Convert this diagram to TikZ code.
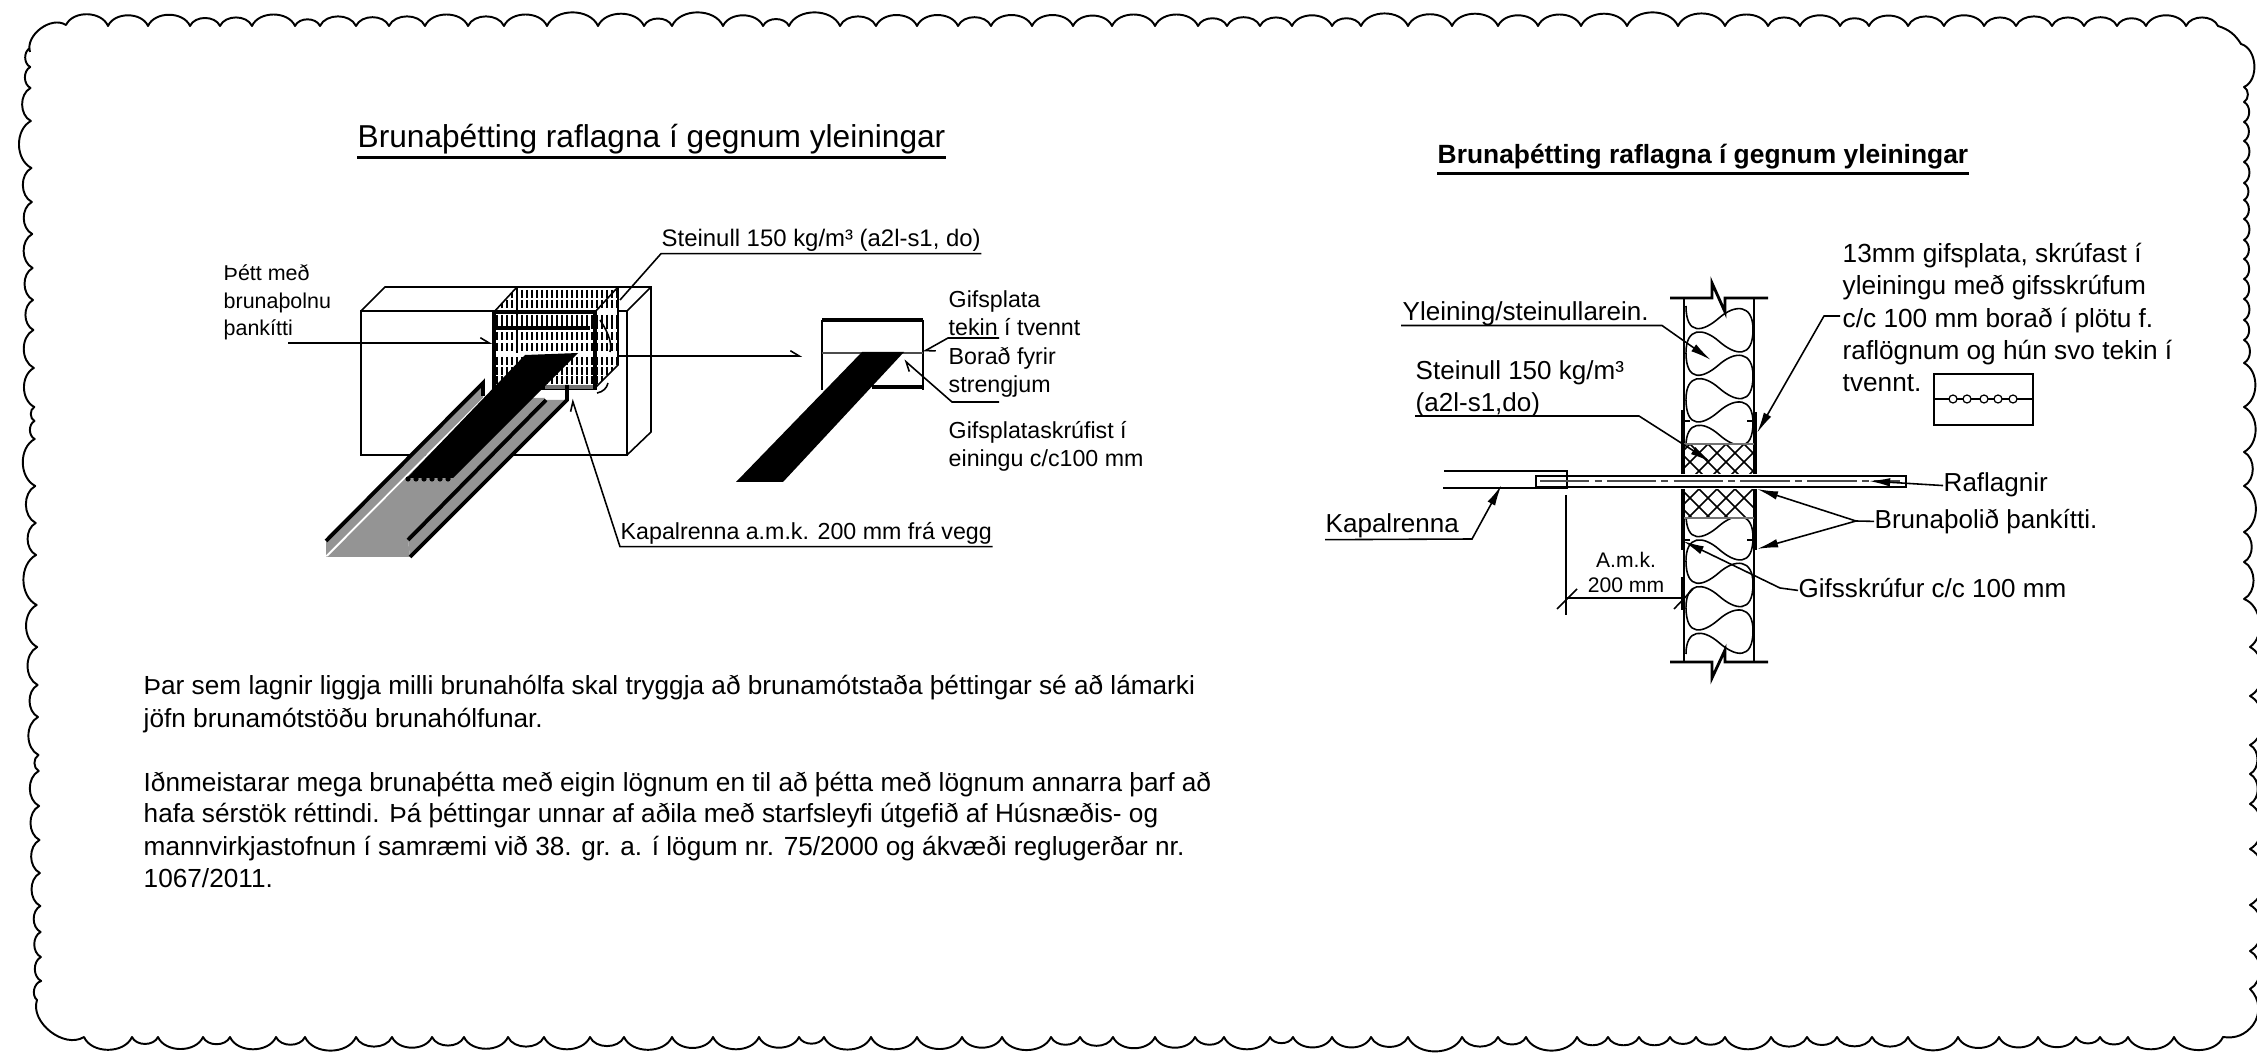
\documentclass[tikz,border=0pt]{standalone}
\usepackage{fontspec}
\setmainfont{Liberation Sans}
\usetikzlibrary{arrows.meta}

\begin{document}
\begin{tikzpicture}[
		x=0.01cm, y=-0.01cm,
		thinline/.style={line width=0.45pt},
		thickline/.style={line width=1.1pt},
		border/.style={line width=0.55pt},
		lbl/.style={inner sep=0pt, anchor=base west, align=left, font=\fontsize{6.6}{8.14}\selectfont, text depth=1.7pt},
		lblr/.style={lbl, font=\fontsize{7.4}{9.2}\selectfont},
		bodyline/.style={inner sep=0pt, anchor=base west, font=\fontsize{7.45}{9}\selectfont},
		ttl/.style={inner sep=0pt, anchor=base west, text depth=2.5pt, font=\fontsize{9}{10}\selectfont},
		leader/.style={thinline, -{Latex[length=6pt,width=2.4pt]}},
		barb/.style={thinline, -{Straight Barb[left,length=2.5pt,width=3pt]}},
		underline/.style={thinline}
		]
		
		\path[use as bounding box] (0,0) rectangle (2257,1055);
		\clip (0,0) rectangle (2257,1055);
		
		% Scalloped edge
		\draw[border, line join=round] (30,52)
			to[bend left=70] (66,25)
			foreach \xx in {108,148,190,220,252,295,320,356,389,425,468,504,547,598,644,672,723,763,789,840,876,917,958,991,1032,1073,1112,1155,1198,1227,1260,1292,1332,1361,1408,1452,1498,1538,1581,1627,1678,1725,1768,1800,1840,1869,1908,1944,1984,2016,2052,2084,2117,2146,2186,2218} {to[bend left=66] (\xx,26)}
			to[bend left=20] (2241,44)
			to[bend left=70] (2244,87)
			foreach \yy in {102,122,141,162,183,200,219,240,259,279,299,320,340,363,407,452,486,532,562,599} {to[bend left=62] (2244,\yy)}
			foreach \yy in {647,696,745,774,804,849,905,951,989} {to[bend left=62] (2250,\yy)}
			to[bend left=40] (2253,1025)
			to[bend left=30] (2223,1037)
			foreach \xx in {2174,2128,2100,2076,2038,1999,1958,1908,1872,1837,1807,1771,1725,1696,1670,1639,1608,1577,1526,1498,1462,1408,1371,1332,1293,1270,1224,1195,1155,1113,1080,1051,1002,962,917,871,824,799,759,713,672,624,590,544,508,464,432,392,356,305,276,230,203,158,132,84} {to[bend left=66] (\xx,1037)}
			to[bend left=70] (37,1000)
			foreach \yy in {981,957,932,906,873,840,806,771,755,717,685,647,605,555,523,486,439,421,407,368,330,300,268,234,202,168,121,88,67,48} {to[bend left=62] ({30+(\yy-48)*0.012},\yy)}
			;
		
		% Left titles and texts
		\node[ttl] (titleLeft) at (357,148) {Brunaþétting raflagna í gegnum yleiningar};
		\draw[underline, line width=0.7pt] (titleLeft.south west) -- (titleLeft.south east);
		\node[lbl, font=\fontsize{6.8}{8.14}\selectfont] (steinullLeft) at (661,247) {Steinull 150 kg/m³ (a2l-s1, do)};
		\node[lbl, font=\fontsize{6.1}{7.95}\selectfont] (thettLabel) at (223,336) {Þétt með\\brunaþolnu\\þankítti};
		\node[lbl] (gifsLabel) at (948,393) {Gifsplata\\tekin í tvennt\\Borað fyrir\\strengjum};
		\node[lbl] (screwLabel) at (948,467) {Gifsplataskrúfist í\\einingu c/c100 mm};
		\node[lbl] (trayLeft) at (620,540) {Kapalrenna a.m.k. 200 mm frá vegg};
		
		% Wall block
		\draw[thinline] (361,311) rectangle (627,455);
		\draw[thinline] (361,311) -- (385,287) -- (651,287) -- (651,432) -- (627,455);
		\draw[thinline] (627,311) -- (651,287);
		
		% Wool insert
		\fill[white] (494,312) -- (517,287) -- (618,287) -- (618,365) -- (595,388) -- (494,388) -- cycle;
		\begin{scope}
			\clip (494,312) -- (517,287) -- (618,287) -- (618,365) -- (595,388) -- (494,388) -- cycle;
			\foreach \yy in {290,300,315,321,332,343,357,367,376}
				\foreach \xx in {497,502,...,617}
					\draw[line width=0.5pt] (\xx,\yy) -- ++(0,8);
		\end{scope}
		\draw[line width=0.9pt] (494,312) rectangle (595,388);
		\draw[line width=0.9pt] (494,328) -- (590,328);
		\draw[thinline] (494,312) -- (517,287) -- (618,287) -- (618,365) -- (595,388);
		\draw[thinline] (595,312) -- (618,287);
		\draw[line width=0.7pt] (517,287) -- (517,353);
		\draw[thinline] (600,320) .. controls (610,335) and (612,345) .. (610,352);
		\draw[thinline] (597,393) .. controls (603,392) and (607,388) .. (608,383);
		\draw[line width=1.1pt, black!55] (545,387) -- (593,387);
		
		% Cable tray
		\fill[black!42] (483,383) -- (483,398) -- (326,555) -- (326,541) -- cycle;
		\fill[black!42] (485,398) -- (545,398) -- (408,540) -- (410,557) -- (326,557) -- cycle;
		\fill[black!42] (546,400) -- (567,400) -- (410,557) -- (408,540) -- cycle;
		\draw[thickline] (483,396) -- (483,383) -- (326,541);
		\draw[thickline] (546,400) -- (408,540);
		\draw[thickline] (567,385) -- (567,400) -- (410,557);
		\draw[thinline, white] (484,398) -- (327,556);
		
		% Cable bundle in the wall
		\fill[black] (525,355) -- (578,353) -- (453,478) -- (407,478) -- cycle;
		\foreach \xx in {408,416,424,432,440,448}
			\fill[black] (\xx,479) circle (2.6);
		
		% Plate detail
		\draw[thinline] (822,320) -- (822,390);
		\draw[thinline] (923,320) -- (923,390);
		\draw[thickline] (822,320) -- (923,320);
		\draw[thickline] (872,387) -- (923,387);
		\draw[line width=0.8pt, black!70] (822,353) -- (923,353);
		\fill[black] (862,352) -- (904,352) -- (783,482) -- (736,482) -- cycle;
		
		% Left leaders
		\coordinate (steinullEnd) at (620,300);
		\coordinate (thettStart) at (288,343);
		\coordinate (thettEnd) at (492,343);
		\coordinate (blockStart) at (618,356);
		\coordinate (plateEnd) at (802,356);
		\coordinate (tekinLeft) at (948,338);
		\coordinate (tekinRight) at (999,338);
		\coordinate (tekinEnd) at (923,352);
		\coordinate (strengLeft) at (952,402);
		\coordinate (strengRight) at (999,402);
		\coordinate (strengEnd) at (904,360);
		\coordinate (trayLeftEnd) at (572,399);
		\draw[underline] (steinullLeft.south east) -- (steinullLeft.south west) -- (steinullEnd);
		\draw[barb] (thettStart) -- (thettEnd);
		\draw[barb] (blockStart) -- (plateEnd);
		\draw[barb] (tekinRight) -- (tekinLeft) -- (tekinEnd);
		\draw[barb] (strengRight) -- (strengLeft) -- (strengEnd);
		\draw[barb] (trayLeft.south east) -- (trayLeft.south west) -- (trayLeftEnd);
		
		% Body text
		\node[bodyline] (bodyA) at (143,695) {Þar sem lagnir liggja milli brunahólfa skal tryggja að brunamótstaða þéttingar sé að lámarki};
		\node[bodyline] (bodyB) at (143,727) {jöfn brunamótstöðu brunahólfunar.};
		\node[bodyline] (bodyC) at (143,791) {Iðnmeistarar mega brunaþétta með eigin lögnum en til að þétta með lögnum annarra þarf að};
		\node[bodyline] (bodyD) at (143,822) {hafa sérstök réttindi. Þá þéttingar unnar af aðila með starfsleyfi útgefið af Húsnæðis- og};
		\node[bodyline] (bodyE) at (143,855) {mannvirkjastofnun í samræmi við 38. gr. a. í lögum nr. 75/2000 og ákvæði reglugerðar nr.};
		\node[bodyline] (bodyF) at (143,887) {1067/2011.};
		
		% Wall section
		\draw[thinline] (1684,298) -- (1684,662);
		\draw[thinline] (1754,298) -- (1754,662);
		\draw[line width=0.8pt] (1670,298) -- (1712,298) -- (1712,283) -- (1725,312) -- (1725,298) -- (1768,298);
		\draw[line width=0.8pt] (1670,662) -- (1712,662) -- (1712,678) -- (1725,650) -- (1725,662) -- (1768,662);
		\foreach \yy in {306,352.67,399.33,514,560.67,607.33}
			\draw[thinline] (1686,\yy) .. controls (1686,\yy+30) and (1703,\yy+26) .. (1719,\yy+12)
				.. controls (1735,\yy-2) and (1753,\yy-2) .. (1753,\yy+23.33)
				.. controls (1753,\yy+53.33) and (1735,\yy+49.33) .. (1719,\yy+35.33)
				.. controls (1703,\yy+21.33) and (1686,\yy+21.33) .. (1686,\yy+46.67);
		\fill[white] (1685,445) rectangle (1753,517);
		
		% Firestop
		\begin{scope}
			\clip (1684,444) rectangle (1754,518);
			\foreach \xx in {1600,1618,...,1800} {
				\draw[thinline] (\xx,444) -- ++(74,74);
				\draw[thinline] (\xx,444) -- ++(-74,74);
			}
		\end{scope}
		\draw[line width=0.7pt, black!55] (1684,444) -- (1754,444);
		\draw[line width=0.7pt, black!55] (1684,518) -- (1754,518);
		\draw[line width=0.7pt] (1682,410) -- (1682,550);
		\draw[line width=0.7pt] (1682,577) -- (1682,610);
		\draw[line width=0.7pt] (1756,412) -- (1756,550);
		\foreach \yy in {421,540} {
			\draw[thinline] (1681,\yy) -- (1690,\yy);
			\draw[thinline] (1747,\yy) -- (1757,\yy);
		}
		
		% Cable tray and cables through the wall
		\fill[white] (1570,474) rectangle (1906,489);
		\draw[thinline] (1444,471) -- (1567,471) -- (1567,488) -- (1443,488);
		\draw[thinline] (1536,476) rectangle (1906,487);
		\draw[thinline] (1567,476) -- (1567,487);
		\draw[line width=0.6pt, black!70, dash pattern=on 14pt off 1.5pt on 2pt off 1.5pt] (1540,481) -- (1900,481);
		
		% Dimension
		\coordinate (dimLeft) at (1566,598);
		\coordinate (dimRight) at (1683,598);
		\draw[thinline] (1566,495) -- (1566,615);
		\draw[thinline] (dimLeft) -- (dimRight);
		\draw[thinline] (1557,609) -- (1577,589);
		\draw[thinline] (1674,609) -- (1693,589);
		\node[inner sep=0pt, align=center, font=\fontsize{6}{7.1}\selectfont] (dimLabel) at (1626,572) {A.m.k.\\200 mm};
		
		% Right titles and texts
		\node[ttl, font=\fontsize{7.5}{10}\selectfont\bfseries] (titleRight) at (1437,164) {Brunaþétting raflagna í gegnum yleiningar};
		\draw[underline, line width=0.8pt] (titleRight.south west) -- (titleRight.south east);
		\node[lblr] (yleiningLabel) at (1402,321) {Yleining/steinullarein.};
		\node[lblr] (steinullRight) at (1415,412) {Steinull 150 kg/m³\\(a2l-s1,do)};
		\node[lblr, font=\fontsize{7.46}{9.2}\selectfont] (gipsLabel) at (1842,392) {13mm gifsplata, skrúfast í\\yleiningu með gifsskrúfum\\c/c 100 mm borað í plötu f.\\raflögnum og hún svo tekin í\\tvennt.};
		\node[lblr] (cableLabel) at (1943,492) {Raflagnir};
		\node[lblr] (fireLabel) at (1874,528) {Brunaþolið þankítti.};
		\node[lblr] (screwRight) at (1798,597) {Gifsskrúfur c/c 100 mm};
		\node[lblr] (trayRight) at (1325,533) {Kapalrenna};
		
		% Drilled plate
		\draw[thinline] (1934,374) rectangle (2033,425);
		\draw[thinline] (1934,399) -- (2033,399);
		\foreach \xx [count=\i] in {1953,1967,1984,1998,2013}
			\node[circle, draw, fill=white, line width=0.35pt, inner sep=0pt, minimum size=0.08cm] (hole\i) at (\xx,399) {};
		
		% Right leaders
		\coordinate (ylEnd) at (1662,325.5);
		\coordinate (ylTip) at (1711,360);
		\coordinate (stStart) at (1639,416);
		\coordinate (stLeft) at (1415,416);
		\coordinate (stTip) at (1711,462);
		\coordinate (gipsA) at (1840,316);
		\coordinate (gipsB) at (1824,316);
		\coordinate (gipsTip) at (1757,433);
		\coordinate (cableTip) at (1869,481);
		\coordinate (fireFork) at (1856,521);
		\coordinate (fireTipA) at (1757,489);
		\coordinate (fireTipB) at (1757,549);
		\coordinate (screwBend) at (1780,588);
		\coordinate (screwTip) at (1683,541);
		\coordinate (trayTip) at (1501.5,485);
		\coordinate (ylLeft) at (1401,325.5);
		\coordinate (trayBend) at (1472,539);
		\draw[leader] (ylLeft) -- (ylEnd) -- (ylTip);
		\draw[leader] (stLeft) -- (stStart) -- (stTip);
		\draw[leader] (gipsA) -- (gipsB) -- (gipsTip);
		\draw[leader] (cableLabel.west) -- (cableTip);
		\draw[thinline] (fireLabel.west) -- (fireFork);
		\draw[leader] (fireFork) -- (fireTipA);
		\draw[leader] (fireFork) -- (fireTipB);
		\draw[leader] (screwRight.west) -- (screwBend) -- (screwTip);
		\draw[leader] (trayRight.south west) -- (trayBend) -- (trayTip);
		
	\end{tikzpicture}
\end{document}
